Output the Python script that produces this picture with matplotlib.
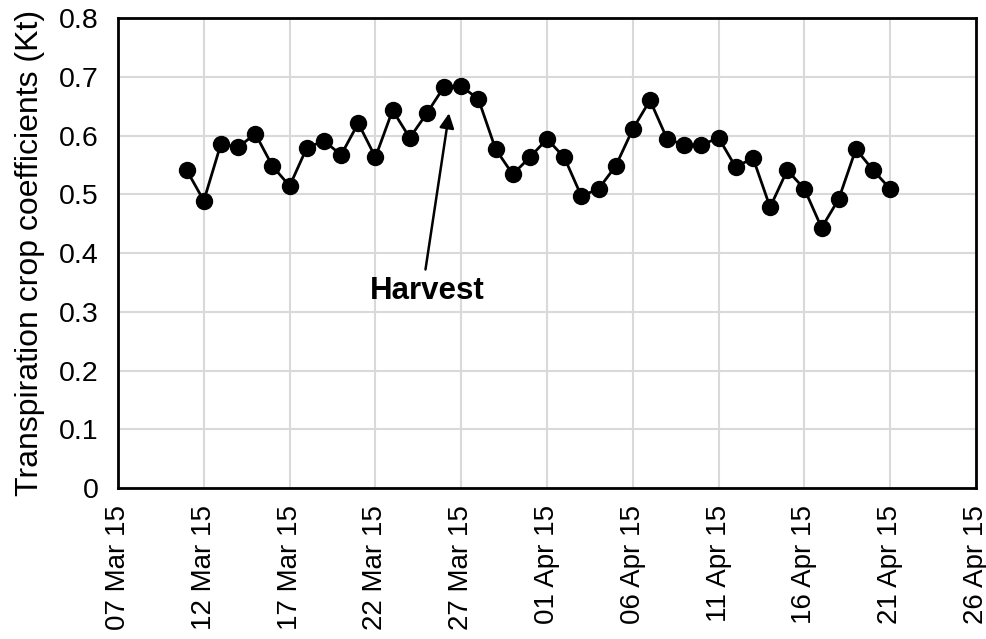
import numpy as np
import matplotlib
matplotlib.use("Agg")
import matplotlib.pyplot as plt
import matplotlib.dates as mdates
from datetime import date, datetime, timedelta

plt.rcParams['font.family'] = ['Liberation Sans', 'DejaVu Sans']

# daily Kt values, 11 Mar 2015 .. 21 Apr 2015
start_date = date(2015, 3, 11)
kt = [0.541, 0.489, 0.586, 0.580, 0.603, 0.548, 0.514, 0.579, 0.591, 0.567,
      0.621, 0.563, 0.643, 0.596, 0.638, 0.683, 0.684, 0.662, 0.577, 0.534,
      0.563, 0.594, 0.563, 0.497, 0.509, 0.548, 0.611, 0.660, 0.594, 0.584,
      0.584, 0.596, 0.546, 0.562, 0.478, 0.541, 0.509, 0.443, 0.492, 0.577,
      0.541, 0.509]
days = [start_date + timedelta(days=i) for i in range(len(kt))]

x_start = date(2015, 3, 7)
x_end = date(2015, 4, 26)
tick_dates = [x_start + timedelta(days=5 * i) for i in range(11)]

# harvest annotation (arrow tip / tail / label)
harvest_tip = (datetime(2015, 3, 26, 7), 0.638)
harvest_tail = (datetime(2015, 3, 24, 22), 0.372)
harvest_label = (datetime(2015, 3, 25, 0), 0.335)

fig = plt.figure(figsize=(9.86, 6.39), dpi=100)
ax = fig.add_axes([0.1197, 0.2363, 0.8702, 0.7355])

ax.plot(days, kt, color='black', lw=2, marker='o', ms=11.5, zorder=3)

ax.set_xlim(x_start, x_end)
ax.set_ylim(0, 0.8)
ax.set_xticks(tick_dates)
ax.xaxis.set_major_formatter(mdates.DateFormatter('%d %b %y'))
ax.set_yticks(np.arange(0, 0.81, 0.1))
ax.set_yticklabels(['0'] + ['%.1f' % v for v in np.arange(0.1, 0.81, 0.1)])
plt.setp(ax.get_xticklabels(), rotation=90)
ax.tick_params(axis='x', length=0, labelsize=20, pad=12)
ax.tick_params(axis='y', length=0, labelsize=20.5, pad=14)

ax.grid(True, color='#d9d9d9', lw=1.5)
ax.set_axisbelow(True)
for s in ax.spines.values():
    s.set_linewidth(2)
    s.set_color('black')

ax.set_ylabel('Transpiration crop coefficients (Kt)', fontsize=23, labelpad=10)

ax.annotate('', xy=harvest_tip, xytext=harvest_tail,
            arrowprops=dict(arrowstyle='-|>', color='black', lw=1.8,
                            mutation_scale=22, shrinkA=0, shrinkB=0))
ax.text(*harvest_label, 'Harvest', ha='center', va='center',
        fontsize=22.5, fontweight='bold')

fig.savefig('out.png', dpi=100)
